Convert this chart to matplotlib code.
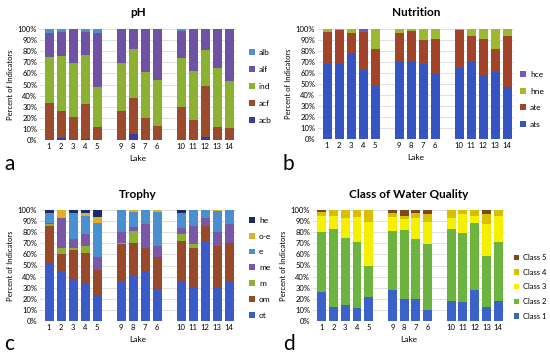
import matplotlib
matplotlib.use("Agg")
import matplotlib.pyplot as plt
import numpy as np
from matplotlib.patches import Patch

plt.rcParams['font.family'] = ['Lato', 'DejaVu Sans']

# ---- data ----
lakes = ["1", "2", "3", "4", "5", "", "9", "8", "7", "6", "", "10", "11", "12", "13", "14"]

ph_series = ["acb", "acf", "ind", "alf", "alb"]
ph_acb = [0, 2, 0, 1, 0, 0, 0, 5, 0, 0, 0, 0, 0, 3, 0, 0]
ph_acf = [33, 24, 21, 31, 12, 0, 26, 33, 20, 13, 0, 30, 18, 46, 12, 11]
ph_ind = [42, 50, 48, 45, 36, 0, 43, 44, 41, 41, 0, 44, 44, 32, 53, 42]
ph_alf = [21, 21, 31, 20, 48, 0, 31, 18, 39, 46, 0, 24, 38, 19, 35, 47]
ph_alb = [4, 3, 0, 3, 4, 0, 0, 0, 0, 0, 0, 2, 0, 0, 0, 0]

nu_series = ["ats", "ate", "hne", "hce"]
nu_ats = [68, 68, 78, 63, 49, 0, 71, 71, 68, 60, 0, 65, 71, 58, 62, 47]
nu_ate = [29, 31, 18, 34, 33, 0, 25, 27, 22, 31, 0, 34, 23, 33, 20, 47]
nu_hne = [3, 1, 4, 0, 18, 0, 4, 2, 10, 9, 0, 1, 6, 9, 18, 6]
nu_hce = [0, 0, 0, 3, 0, 0, 0, 0, 0, 0, 0, 0, 0, 0, 0, 0]

tr_series = ["ot", "om", "m", "me", "e", "o-e", "he"]
tr_ot = [51, 45, 38, 34, 23, 0, 36, 41, 45, 29, 0, 36, 30, 72, 30, 35]
tr_om = [35, 15, 26, 27, 23, 0, 33, 29, 21, 29, 0, 36, 36, 14, 38, 35]
tr_m = [1, 6, 2, 7, 0, 0, 1, 11, 0, 0, 0, 6, 3, 0, 0, 0]
tr_me = [1, 27, 8, 10, 12, 0, 10, 4, 21, 10, 0, 6, 17, 7, 12, 17]
tr_e = [9, 0, 23, 17, 30, 0, 20, 13, 13, 30, 0, 13, 14, 7, 19, 13]
tr_oe = [0, 7, 0, 2, 6, 0, 0, 2, 0, 2, 0, 0, 0, 0, 1, 0]
tr_he = [3, 0, 3, 3, 6, 0, 0, 0, 0, 0, 0, 3, 0, 0, 0, 0]

wq_series = ["Class 1", "Class 2", "Class 3", "Class 4", "Class 5"]
wq_c1 = [26, 13, 14, 12, 22, 0, 28, 20, 20, 10, 0, 18, 17, 28, 13, 18]
wq_c2 = [54, 70, 61, 59, 28, 0, 53, 62, 54, 59, 0, 65, 62, 60, 46, 53]
wq_c3 = [15, 12, 18, 23, 39, 0, 13, 10, 19, 20, 0, 10, 17, 7, 28, 24]
wq_c4 = [3, 5, 7, 6, 11, 0, 3, 3, 4, 7, 0, 7, 4, 5, 9, 5]
wq_c5 = [2, 0, 0, 0, 0, 0, 3, 5, 3, 4, 0, 0, 0, 0, 4, 0]

ph_colors = ["#3a3aa6", "#9c4a2e", "#8cb032", "#6f52a4", "#4f8fd4"]
nu_colors = ["#3556c2", "#a3442a", "#9aba30", "#6a5acd"]
tr_colors = ["#3a5bc8", "#98492a", "#8cb030", "#7a58a8", "#4a90d0", "#e0b020", "#1a2a6a"]
wq_colors = ["#3a62c8", "#6db33f", "#f4f000", "#d6c000", "#7a4a1a"]

W, H = 550, 357
fig = plt.figure(figsize=(W / 100, H / 100), dpi=100)


def px_axes(x0, x1, ytop, ybot):
    return fig.add_axes([x0 / W, (H - ybot) / H, (x1 - x0) / W, (ybot - ytop) / H])


def draw_panel(ax, series_vals, names, colors, xlim):
    x = np.arange(len(lakes))
    bottom = np.zeros(len(lakes))
    for vals, name, c in zip(series_vals, names, colors):
        v = np.array(vals, dtype=float) / 100.0
        ax.bar(x, v, 0.75, bottom=bottom, color=c, label=name, zorder=3, linewidth=0)
        bottom += v
    ax.set_ylim(0, 1)
    ax.set_xlim(*xlim)
    ax.set_yticks(np.arange(0, 1.01, 0.1))
    ax.set_yticklabels([f"{int(round(t*100))}%" for t in np.arange(0, 1.01, 0.1)], fontsize=5.5)
    ax.set_xticks(x)
    ax.set_xticklabels(lakes, fontsize=5.5)
    ax.tick_params(length=0, pad=2)
    ax.yaxis.grid(True, color="#d9d9d9", linewidth=0.6, zorder=0)
    for s in ax.spines.values():
        s.set_visible(False)
    ax.set_ylabel("Percent of Indicators", fontsize=5.5, labelpad=3)
    ax.set_xlabel("Lake", fontsize=6, labelpad=4)


def add_legend(names, colors, xfig, ytop, spacing, fs=6):
    handles = [Patch(facecolor=c, edgecolor="none") for c in colors][::-1]
    leg = fig.legend(handles, names[::-1], loc="upper left",
                     bbox_to_anchor=(xfig / W, 1 - ytop / H), frameon=False,
                     fontsize=fs, handlelength=0.7, handleheight=0.7,
                     handletextpad=0.5, labelspacing=spacing, borderpad=0, borderaxespad=0)
    return leg


TFS = 8.5

# Panel a
axa = px_axes(40, 236, 29, 140)
draw_panel(axa, [ph_acb, ph_acf, ph_ind, ph_alf, ph_alb], ph_series, ph_colors, (-0.75, 15.58))
axa.set_title("pH", fontsize=TFS, fontweight="bold", pad=9)
add_legend(ph_series, ph_colors, 249, 49, 1.2)

# Panel b
axb = px_axes(318, 514, 29, 139)
draw_panel(axb, [nu_ats, nu_ate, nu_hne, nu_hce], nu_series, nu_colors, (-0.75, 15.58))
axb.set_title("Nutrition", fontsize=TFS, fontweight="bold", pad=9)
add_legend(nu_series, nu_colors, 520, 71, 1.15)

# Panel c
axc = px_axes(40, 236, 210, 321)
draw_panel(axc, [tr_ot, tr_om, tr_m, tr_me, tr_e, tr_oe, tr_he], tr_series, tr_colors, (-0.75, 15.58))
axc.set_title("Trophy", fontsize=TFS, fontweight="bold", pad=9)
add_legend(tr_series, tr_colors, 249, 217, 1.05)

# Panel d
axd = px_axes(313, 505, 210, 321)
draw_panel(axd, [wq_c1, wq_c2, wq_c3, wq_c4, wq_c5], wq_series, wq_colors, (-0.75, 15.58))
axd.set_title("Class of Water Quality", fontsize=TFS, fontweight="bold", pad=9)
add_legend(wq_series, wq_colors, 514, 254, 1.0, fs=5.5)

# panel letters
for lab, (px, py) in {"a": (4, 170), "b": (283, 170), "c": (4, 350), "d": (283, 350)}.items():
    fig.text(px / W, 1 - py / H, lab, fontsize=15, ha="left", va="baseline")

fig.savefig("out.png", dpi=100)
